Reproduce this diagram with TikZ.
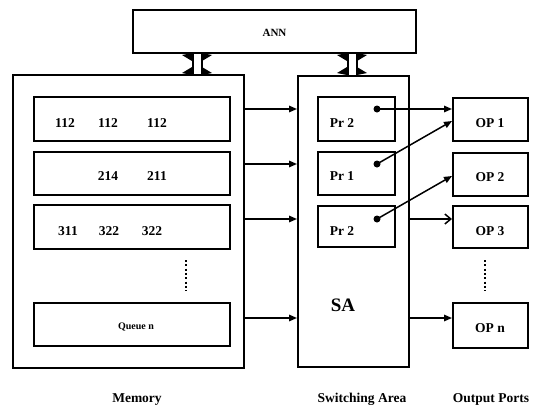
\documentclass[tikz,border=0pt]{standalone}
\usepackage{fontspec}
\setmainfont{Liberation Serif}
\usetikzlibrary{arrows.meta,fit}
\begin{document}
\begin{tikzpicture}[x=1pt,y=-1pt,
  box/.style={draw,line width=2pt,fill=white,inner sep=0pt},
  lbl/.style={font=\bfseries\fontsize{13.5}{15}\selectfont,anchor=base,inner sep=0pt},
  small/.style={font=\bfseries\fontsize{10}{12}\selectfont,anchor=base,inner sep=0pt},
  big/.style={font=\bfseries\fontsize{19}{22}\selectfont,anchor=base,inner sep=0pt},
  flow/.style={line width=1.5pt,-{Triangle[length=8pt,width=6.5pt]}},
  openflow/.style={line width=1.5pt,-{Straight Barb[length=6pt,width=10pt,line width=1.5pt]}},
  dot/.style={circle,fill,inner sep=0pt,minimum size=7pt},
  vdots/.style={line width=2pt,dash pattern=on 2pt off 2.3pt}]
\useasboundingbox (0,0) rectangle (533,405);

% neural network controller
\node[box,fit={(133,10) (416,53)}] (ann) {};
\node[small,font=\bfseries\fontsize{11}{12}\selectfont] at (274.5,36) {ANN};

% memory with its queues
\node[box,fit={(13,75) (244,368)}] (mem) {};
\node[box,fit={(34,97) (230,141)}] (q1) {};
\node[box,fit={(34,152) (230,195)}] (q2) {};
\node[box,fit={(34,205) (230,249)}] (q3) {};
\node[box,fit={(34,303) (230,346)}] (qn) {};
\node[lbl] at (65,127) {112};
\node[lbl] at (108,127) {112};
\node[lbl] at (157,127) {112};
\node[lbl] at (108,180) {214};
\node[lbl] at (157,180) {211};
\node[lbl] at (68,235) {311};
\node[lbl] at (109,235) {322};
\node[lbl] at (152,235) {322};
\node[small] at (136,329) {Queue n};
\draw[vdots] (186,260) -- (186,291);

% switching area with priorities
\node[box,fit={(298,76) (409,367)}] (sa) {};
\node[box,fit={(318,97) (395,141)}] (p1) {};
\node[box,fit={(318,152) (395,195)}] (p2) {};
\node[box,fit={(318,206) (395,247)}] (p3) {};
\node[lbl] at (342,127) {Pr 2};
\node[lbl] at (342,180) {Pr 1};
\node[lbl] at (342,235) {Pr 2};
\node[big] at (343,311) {SA};
\node[dot] (d1) at (377,109) {};
\node[dot] (d2) at (377,164) {};
\node[dot] (d3) at (377,219) {};
\coordinate (c4) at (0,318);

% output ports
\node[box,fit={(453,98) (528,141)}] (o1) {};
\node[box,fit={(453,153) (528,196)}] (o2) {};
\node[box,fit={(453,206) (528,248)}] (o3) {};
\node[box,fit={(453,303) (528,348)}] (on) {};
\node[lbl] at (490,127) {OP 1};
\node[lbl] at (490,181) {OP 2};
\node[lbl] at (490,235) {OP 3};
\node[lbl] at (490,332) {OP n};
\draw[vdots] (485,260) -- (485,291);

% hollow two-way links between ANN and the blocks below
\foreach \cx in {197,352}{
  \fill[white] (\cx-4.5,54) rectangle (\cx+4.5,74);
  \draw[line width=2pt] (\cx-4.5,53) -- (\cx-4.5,75) (\cx+4.5,53) -- (\cx+4.5,75);
  % arrow wings, top and bottom
  \fill (\cx-5,53) -- (\cx-15,55) -- (\cx-5,61) -- cycle;
  \fill (\cx+5,53) -- (\cx+15,55) -- (\cx+5,61) -- cycle;
  \fill (\cx-5,75) -- (\cx-15,73) -- (\cx-5,67) -- cycle;
  \fill (\cx+5,75) -- (\cx+15,73) -- (\cx+5,67) -- cycle;
}

% memory to switching area
\draw[flow] (mem.east |- d1) -- (sa.west |- d1);
\draw[flow] (mem.east |- d2) -- (sa.west |- d2);
\draw[flow] (mem.east |- d3) -- (sa.west |- d3);
\draw[flow] (mem.east |- c4) -- (sa.west |- c4);

% switching area to output ports
\draw[flow] (d1.center) -- (o1.west |- d1);
\draw[flow] (d2.center) -- ([yshift=-1.5pt]o1.west);
\draw[flow] (d3.center) -- ([yshift=-1.5pt]o2.west);
\draw[openflow] (sa.east |- d3) -- (o3.west |- d3);
\draw[flow] (sa.east |- c4) -- (on.west |- c4);

% captions
\node[lbl] at (137,402) {Memory};
\node[lbl] at (362,402) {Switching Area};
\node[lbl] at (491,402) {Output Ports};
\end{tikzpicture}
\end{document}
